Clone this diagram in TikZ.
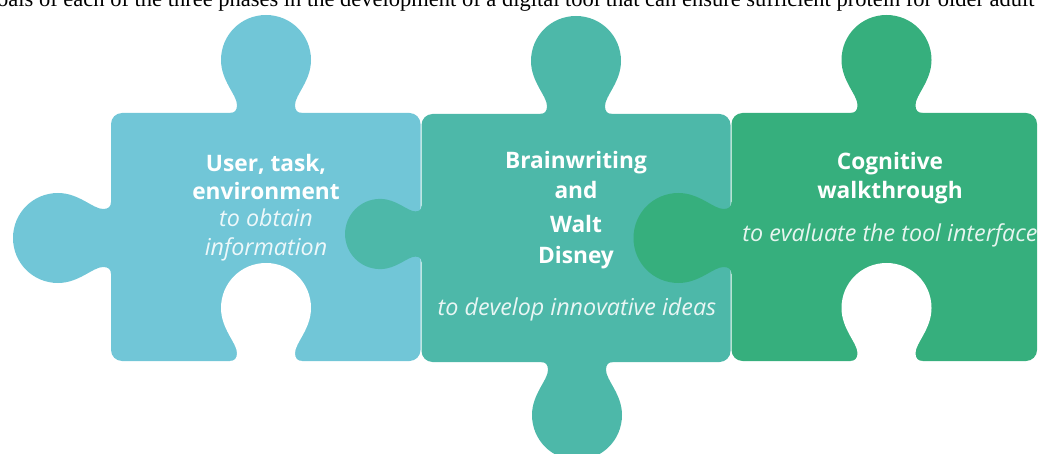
\documentclass[tikz,border=0pt]{standalone}
\usepackage{fontspec}
\newfontfamily\puzfont{Open Sans}
\newfontfamily\capfont{Liberation Serif}
\definecolor{pblue}{RGB}{113,198,215}
\definecolor{pteal}{RGB}{77,184,169}
\definecolor{pgreen}{RGB}{54,175,125}
\tikzset{
  tabshape/.pic={\fill[pic actions] (-36,0) .. controls (-31,0) and (-29,-3) .. (-29,-8)
     .. controls (-29,-18) and (-45,-32) .. (-45,-53)
     .. controls (-45,-78) and (-25,-98) .. (0,-98)
     .. controls (25,-98) and (45,-78) .. (45,-53)
     .. controls (45,-32) and (29,-18) .. (29,-8)
     .. controls (29,-3) and (31,0) .. (36,0) -- (36,8) -- (-36,8) -- cycle;},
  body/.style={rounded corners=11pt},
  head/.style={font=\puzfont\bfseries\fontsize{22.7}{26}\selectfont, text=white, anchor=base, inner sep=0pt},
  sub/.style={font=\puzfont\itshape\fontsize{23.3}{27}\selectfont, text=white, text opacity=0.88, anchor=base, inner sep=0pt},
}
\begin{document}
\begin{tikzpicture}[x=1pt,y=-1pt]
\useasboundingbox (0,0) rectangle (1038,454);
\clip (0,0) rectangle (1038,454);
% caption
\node[font=\capfont\fontsize{22.5}{26}\selectfont, anchor=base west, inner sep=0pt] (cap) at (-3,7) {oals of each of the three phases in the development of a digital tool that can ensure sufficient protein for older adult};
% piece 1
\fill[pblue, body] (111,113) rectangle (420.5,361);
\pic[fill=pblue] at (266,113) {tabshape};
\pic[fill=pblue, rotate=90] at (111,238) {tabshape};
\pic[fill=white] at (266,361) {tabshape};
% piece 2
\fill[pteal, body] (421.5,114) rectangle (730.5,362);
\pic[fill=pteal, rotate=90, scale=0.78] at (421.5,234) {tabshape};
\pic[fill=pteal] at (576,114) {tabshape};
\pic[fill=pteal, rotate=180] at (577,362) {tabshape};
% piece 3
\fill[pgreen, body] (731.5,113) rectangle (1037,361);
\pic[fill=pgreen] at (886.5,113) {tabshape};
\pic[fill=pgreen, rotate=90] at (731.5,238) {tabshape};
\pic[fill=white] at (886.5,361) {tabshape};
% texts
\node[head] (t1a) at (266,171.5) {User, task,};
\node[head] (t1b) at (266,200) {environment};
\node[sub] (t1c) at (266,227) {to obtain};
\node[sub] (t1d) at (266,255) {information};
\node[head] (t2a) at (576,169) {Brainwriting};
\node[head] (t2b) at (576,199) {and};
\node[head] (t2c) at (576,233) {Walt};
\node[head] (t2d) at (576,263) {Disney};
\node[sub] (t2e) at (577,315) {to develop innovative ideas};
\node[head] (t3a) at (890,170) {Cognitive};
\node[head] (t3b) at (890,199) {walkthrough};
\node[sub] (t3c) at (890,242) {to evaluate the tool interface};
\end{tikzpicture}
\end{document}
